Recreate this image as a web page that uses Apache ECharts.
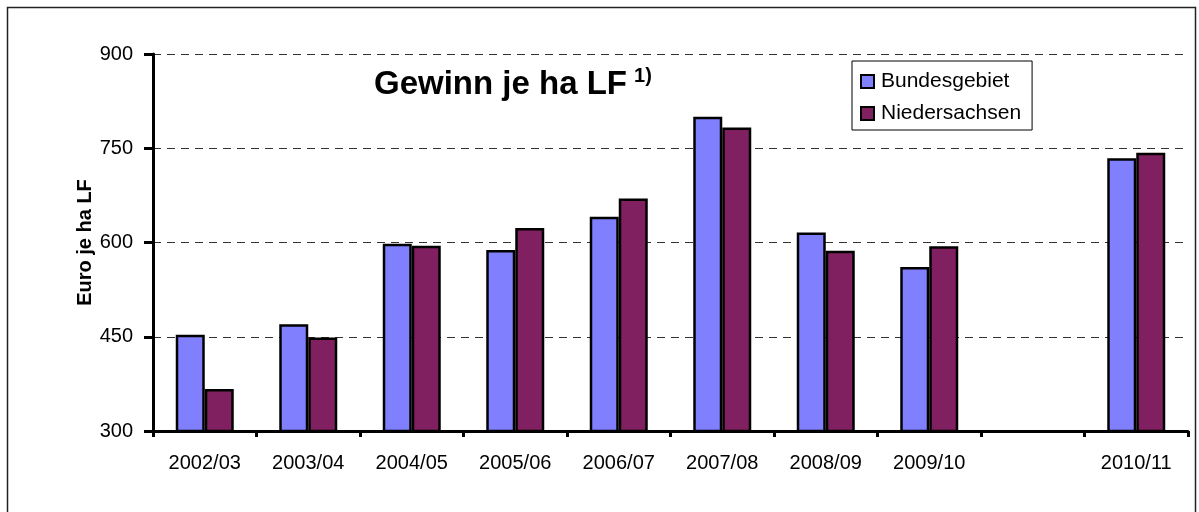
<!DOCTYPE html>
<html>
<head>
<meta charset="utf-8">
<script src="https://cdn.jsdelivr.net/npm/echarts@6/dist/echarts.min.js"></script>
<style>
html, body { margin: 0; padding: 0; background: #fff; }
#main { width: 1199px; height: 512px; }
</style>
</head>
<body>
<div id="main"></div>
<script>
var categories = ['2002/03', '2003/04', '2004/05', '2005/06', '2006/07', '2007/08', '2008/09', '2009/10', '', '2010/11'];
var bundesgebiet = [453, 470, 598, 588, 641, 800, 616, 561, null, 734];
var niedersachsen = [367, 449, 595, 623, 670, 783, 587, 594, null, 743];
var yTicks = [300, 450, 600, 750, 900];

var font = 'Arial, "Liberation Sans", Helvetica, sans-serif';

var option = {
	animation: false,
	backgroundColor: '#fff',
	textStyle: { fontFamily: font },
	title: {
		text: '{main|Gewinn je ha LF}{sup|1)}',
		left: 374,
		top: 66,
		padding: 0,
		textStyle: {
			rich: {
				main: { fontSize: 33, fontWeight: 'bold', color: '#000', fontFamily: font, lineHeight: 38 },
				sup: { fontSize: 20, fontWeight: 'bold', color: '#000', fontFamily: font, verticalAlign: 'top', lineHeight: 38, padding: [0, 0, 0, 7] }
			}
		}
	},
	legend: {
		orient: 'vertical',
		left: 852,
		top: 61,
		padding: [10, 11, 6, 8],
		itemGap: 11,
		itemWidth: 13,
		itemHeight: 13,
		borderColor: '#000',
		borderWidth: 1,
		icon: 'rect',
		textStyle: { fontSize: 21, color: '#000', fontFamily: font, padding: [0, 0, 0, 2] },
		data: ['Bundesgebiet', 'Niedersachsen']
	},
	graphic: [{
		type: 'rect',
		shape: { x: 7.5, y: 7.5, width: 1188, height: 520 },
		style: { fill: 'none', stroke: '#222', lineWidth: 1.5 },
		silent: true
	}],
	grid: { left: 153, right: 11, top: 54, bottom: 81 },
	xAxis: {
		type: 'category',
		data: categories,
		axisLine: { lineStyle: { color: '#000', width: 3 } },
		axisTick: { show: true, interval: 0, length: 6, lineStyle: { color: '#000', width: 3 } },
		axisLabel: { interval: 0, fontSize: 20, color: '#000', margin: 22, fontFamily: font }
	},
	yAxis: {
		type: 'value',
		min: 300,
		max: 900,
		interval: 150,
		name: 'Euro je ha LF',
		nameLocation: 'middle',
		nameRotate: 90,
		nameGap: 58,
		nameMoveOverlap: false,
		nameTextStyle: { fontSize: 20, fontWeight: 'bold', color: '#000', fontFamily: font },
		axisLine: { show: true, lineStyle: { color: '#000', width: 3 } },
		axisTick: { show: true, length: 9, lineStyle: { color: '#000', width: 3 } },
		axisLabel: {
			fontSize: 20, color: '#000', margin: 20, fontFamily: font,
			formatter: function (v) { return yTicks.indexOf(v) >= 0 ? String(v) : ''; }
		},
		splitLine: { show: true, lineStyle: { color: '#333', width: 1, type: [8, 6] } }
	},
	series: [{
		name: 'Bundesgebiet',
		type: 'bar',
		data: bundesgebiet,
		barWidth: 29,
		barGap: '0%',
		itemStyle: { color: '#8080FF', borderColor: '#000', borderWidth: 2.5 }
	}, {
		name: 'Niedersachsen',
		type: 'bar',
		data: niedersachsen,
		barWidth: 29,
		barGap: '0%',
		itemStyle: { color: '#802060', borderColor: '#000', borderWidth: 2.5 }
	}]
};

var myChart = echarts.init(document.getElementById('main'));
myChart.setOption(option, true);
</script>
</body>
</html>
